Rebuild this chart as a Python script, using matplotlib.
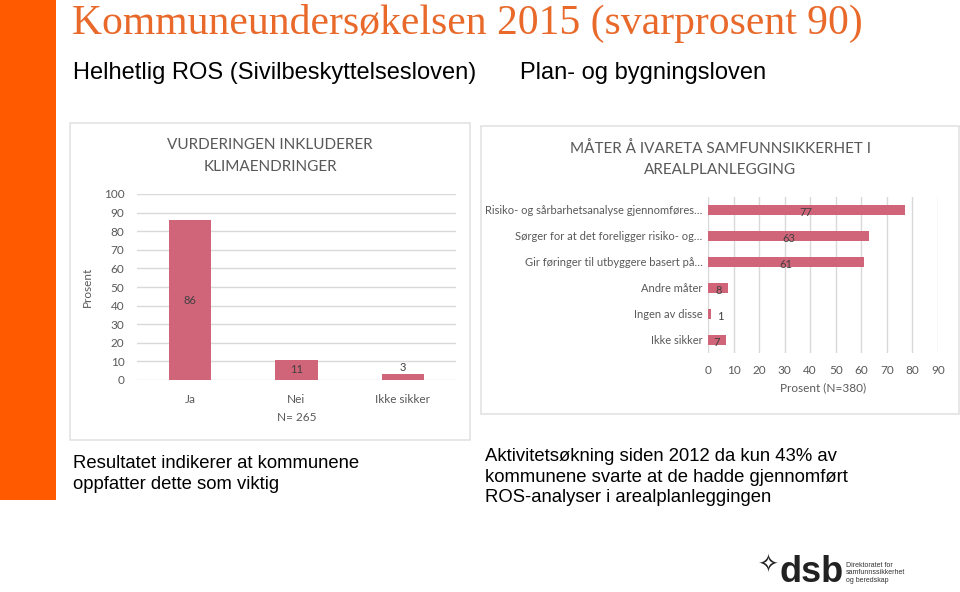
import matplotlib
matplotlib.use('Agg')
import matplotlib.pyplot as plt
from matplotlib.patches import Rectangle

# ---- data -------------------------------------------------------------
left_categories = ["Ja", "Nei", "Ikke sikker"]
left_values = [86, 11, 3]

right_categories = [
    "Risiko- og sårbarhetsanalyse gjennomføres…",
    "Sørger for at det foreligger risiko- og…",
    "Gir føringer til utbyggere basert på…",
    "Andre måter",
    "Ingen av disse",
    "Ikke sikker",
]
right_values = [77, 63, 61, 8, 1, 7]

left_yticks = list(range(0, 101, 10))
right_xticks = list(range(0, 91, 10))

# ---- style ------------------------------------------------------------
W, H = 960, 592
BAR = '#D06579'
GRID = '#D9D9D9'
TXT = '#595959'
ORANGE = '#FF5A00'
CHART_FONT = 'Lato'


def fx(x):
    return x / W


def fy(y):
    return 1 - y / H


def box(x0, y0, x1, y1):
    # pixel box (top-left origin) -> figure rect
    return [fx(x0), fy(y1), (x1 - x0) / W, (y1 - y0) / H]


fig = plt.figure(figsize=(W / 100, H / 100), dpi=100)
fig.patch.set_facecolor('white')

# orange side bar
fig.add_artist(Rectangle((0, fy(500)), fx(56), 500 / H, transform=fig.transFigure,
                         facecolor=ORANGE, edgecolor='none'))

# headings
fig.text(fx(72), fy(23), "Kommuneundersøkelsen 2015 (svarprosent 90)",
         family='Liberation Serif', fontsize=30, color='#E8692A', va='center')
fig.text(fx(73), fy(73), "Helhetlig ROS (Sivilbeskyttelsesloven)",
         family='Liberation Sans', fontsize=17, color='black', va='center')
fig.text(fx(520), fy(73), "Plan- og bygningsloven",
         family='Liberation Sans', fontsize=17, color='black', va='center')

# chart panel frames
for x0, y0, x1, y1 in [(70, 123, 470, 440), (481, 126, 959, 414)]:
    fig.add_artist(Rectangle((fx(x0), fy(y1)), (x1 - x0) / W, (y1 - y0) / H,
                             transform=fig.transFigure, facecolor='none',
                             edgecolor='#E3E3E3', lw=1.2, zorder=-1))

# ---- left chart ------------------------------------------------------
ax1 = fig.add_axes(box(137, 194, 456, 380))
ax1.patch.set_alpha(0)
xs = range(len(left_categories))
bars = ax1.bar(xs, left_values, width=0.4, color=BAR, zorder=3)
ax1.set_xlim(-0.5, len(left_categories) - 0.5)
ax1.set_ylim(0, 100)
ax1.set_yticks(left_yticks)
ax1.set_xticks(list(xs))
ax1.set_xticklabels(left_categories)
ax1.yaxis.grid(True, color=GRID, lw=1, zorder=0)
for s in ax1.spines.values():
    s.set_visible(False)
ax1.tick_params(length=0, labelsize=8.5, labelcolor=TXT, pad=9)
ax1.tick_params(axis='x', pad=10)
for lab in ax1.get_xticklabels() + ax1.get_yticklabels():
    lab.set_family(CHART_FONT)
ax1.set_ylabel("Prosent", family=CHART_FONT, fontsize=8.5, color=TXT, labelpad=8)
ax1.set_xlabel("N= 265", family=CHART_FONT, fontsize=8.5, color=TXT, labelpad=5)
for b, v in zip(bars, left_values):
    if v > 8:
        ax1.text(b.get_x() + b.get_width() / 2, v / 2, str(v), ha='center',
                 va='center', family=CHART_FONT, fontsize=8, color='#404040')
    else:
        ax1.text(b.get_x() + b.get_width() / 2, v + 0.8, str(v), ha='center',
                 va='bottom', family=CHART_FONT, fontsize=8, color='#404040')
fig.text(fx(270), fy(156), "VURDERINGEN INKLUDERER\nKLIMAENDRINGER", ha='center',
         va='center', family=CHART_FONT, fontsize=11, color=TXT, linespacing=1.65)

# ---- right chart -----------------------------------------------------
ax2 = fig.add_axes(box(708, 197, 938, 353))
ax2.patch.set_alpha(0)
ys = range(len(right_categories))
hb = ax2.barh(ys, right_values, height=0.35, color=BAR, zorder=3)
ax2.set_ylim(len(right_categories) - 0.5, -0.5)
ax2.set_xlim(0, 90)
ax2.set_xticks(right_xticks)
ax2.set_yticks(list(ys))
ax2.set_yticklabels(right_categories)
ax2.xaxis.grid(True, color=GRID, lw=1, zorder=0)
for s in ax2.spines.values():
    s.set_visible(False)
ax2.tick_params(length=0, labelsize=8, labelcolor=TXT)
ax2.tick_params(axis='y', pad=4)
ax2.tick_params(axis='x', pad=9, labelsize=8.5)
for lab in ax2.get_xticklabels() + ax2.get_yticklabels():
    lab.set_family(CHART_FONT)
ax2.set_xlabel("Prosent (N=380)", family=CHART_FONT, fontsize=8.5, color=TXT, labelpad=4)
for b, v in zip(hb, right_values):
    yc = b.get_y() + b.get_height() / 2 + 0.08
    if v > 3:
        ax2.text(v / 2, yc, str(v), ha='center', va='center',
                 family=CHART_FONT, fontsize=8, color='#404040')
    else:
        ax2.text(v + 2.5, yc, str(v), ha='left', va='center',
                 family=CHART_FONT, fontsize=8, color='#404040')
fig.text(fx(720), fy(159), "MÅTER Å IVARETA SAMFUNNSIKKERHET I\nAREALPLANLEGGING",
         ha='center', va='center', family=CHART_FONT, fontsize=11, color=TXT,
         linespacing=1.65)

# ---- bottom notes ----------------------------------------------------
fig.text(fx(73), fy(474), "Resultatet indikerer at kommunene\noppfatter dette som viktig",
         family='Liberation Sans', fontsize=13.3, color='black', va='center',
         linespacing=1.3)
fig.text(fx(485), fy(477),
         "Aktivitetsøkning siden 2012 da kun 43% av\nkommunene svarte at de hadde gjennomført\nROS-analyser i arealplanleggingen",
         family='Liberation Sans', fontsize=13.3, color='black', va='center',
         linespacing=1.3)

# ---- logo ------------------------------------------------------------
fig.text(fx(768), fy(566), "✧", family='DejaVu Sans', fontsize=18, color='#222222',
         weight='bold', ha='center', va='center')
fig.text(fx(812), fy(572), "dsb", family='Liberation Sans', fontsize=26,
         weight='bold', color='#222222', ha='center', va='center')
fig.text(fx(846), fy(573), "Direktoratet for\nsamfunnssikkerhet\nog beredskap",
         family='Liberation Sans', fontsize=5, color='#333333', va='center',
         linespacing=1.1)

fig.savefig('out.png', dpi=100, facecolor='white')
